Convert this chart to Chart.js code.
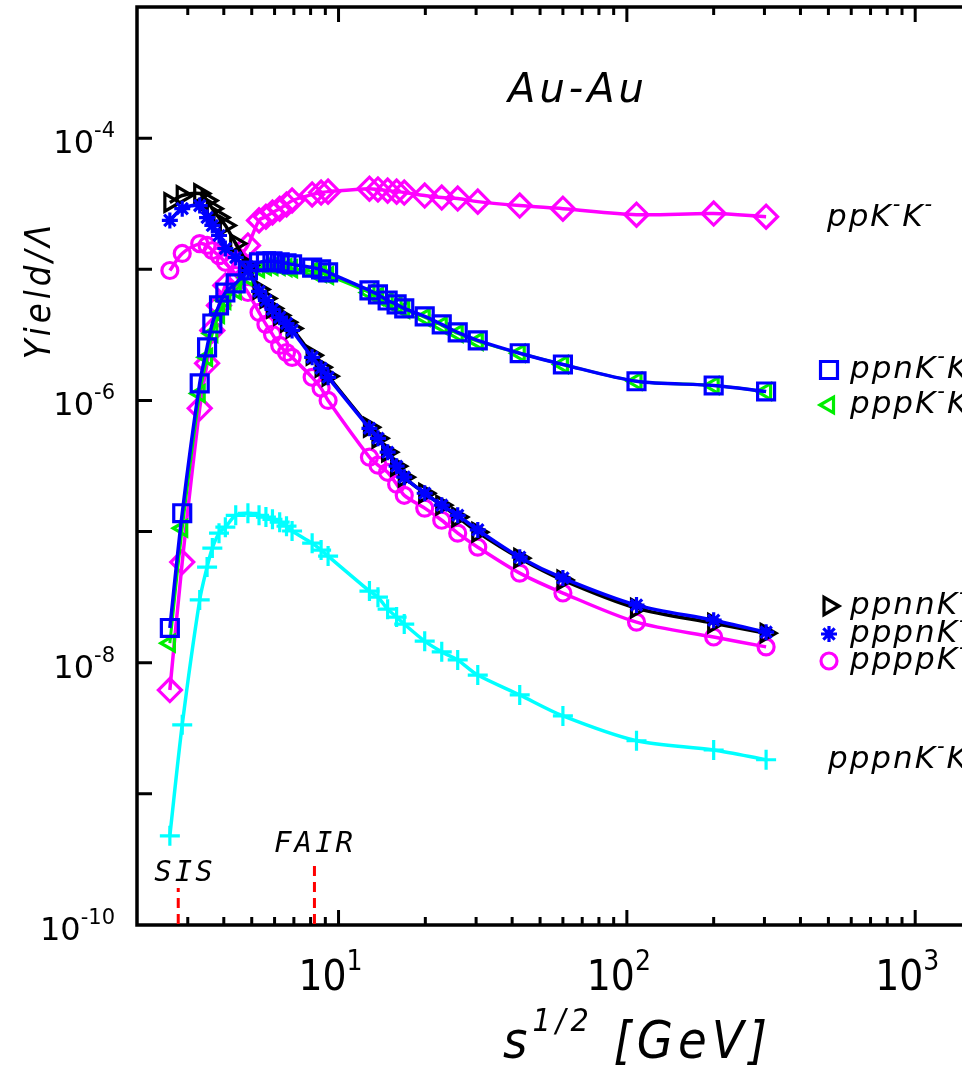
<!DOCTYPE html>
<html>
<head>
<meta charset="utf-8">
<script src="https://cdn.jsdelivr.net/npm/chart.js@4.4.0/dist/chart.umd.min.js"></script>
<style>
  html, body { margin: 0; padding: 0; background: #fff; overflow: hidden; }
  canvas { display: block; }
</style>
</head>
<body>
<canvas id="yields" width="1040" height="1068"></canvas>
<script>
// collision energies sqrt(s) [GeV]
const energies = [2.6, 2.87, 3.3, 3.5, 3.65, 3.85, 4.05, 4.4, 4.85, 5.3, 5.6, 5.9, 6.25, 6.6, 6.9,
  8.1, 8.7, 9.2, 12.8, 13.7, 14.8, 15.9, 16.9, 19.9, 22.8, 25.9, 30.4, 42.5, 60, 108, 200, 304];

// yields relative to Lambda
const ppKK = [6.19e-9, 5.85e-8, 8.71e-7, 1.92e-6, 3.42e-6, 5.30e-6, 7.53e-6, 1.13e-5, 1.52e-5, 2.36e-5,
  2.52e-5, 2.71e-5, 2.90e-5, 3.12e-5, 3.34e-5, 3.72e-5, 3.85e-5, 3.91e-5, 4.12e-5, 4.06e-5, 3.98e-5,
  3.91e-5, 3.85e-5, 3.65e-5, 3.52e-5, 3.46e-5, 3.28e-5, 3.06e-5, 2.90e-5, 2.61e-5, 2.66e-5, 2.52e-5];
const ppnKK = [1.84e-8, 1.38e-7, 1.35e-6, 2.54e-6, 3.86e-6, 5.30e-6, 6.65e-6, 7.80e-6, 9.79e-6, 1.13e-5,
  1.15e-5, 1.15e-5, 1.13e-5, 1.11e-5, 1.09e-5, 1.03e-5, 9.97e-6, 9.46e-6, 6.90e-6, 6.43e-6, 5.78e-6,
  5.40e-6, 5.03e-6, 4.38e-6, 3.80e-6, 3.30e-6, 2.87e-6, 2.29e-6, 1.88e-6, 1.40e-6, 1.30e-6, 1.17e-6];
const pppKK = [1.41e-8, 1.06e-7, 1.13e-6, 2.13e-6, 3.24e-6, 4.53e-6, 5.78e-6, 6.90e-6, 8.67e-6, 1.01e-5,
  1.05e-5, 1.05e-5, 1.05e-5, 1.03e-5, 1.01e-5, 9.62e-6, 9.29e-6, 8.97e-6, 6.65e-6, 6.21e-6, 5.69e-6,
  5.30e-6, 4.94e-6, 4.30e-6, 3.73e-6, 3.24e-6, 2.82e-6, 2.29e-6, 1.88e-6, 1.40e-6, 1.30e-6, 1.17e-6];
const ppnnKK = [3.23e-5, 3.65e-5, 3.78e-5, 3.34e-5, 2.90e-5, 2.48e-5, 2.16e-5, 1.57e-5, 1.07e-5, 7.02e-6,
  6.00e-6, 5.03e-6, 4.45e-6, 3.94e-6, 3.54e-6, 2.21e-6, 1.79e-6, 1.53e-6, 6.24e-7, 5.14e-7, 4.03e-7,
  3.15e-7, 2.60e-7, 1.96e-7, 1.59e-7, 1.29e-7, 9.89e-8, 6.27e-8, 4.27e-8, 2.61e-8, 2.00e-8, 1.68e-8];
const pppnKK = [2.36e-5, 2.90e-5, 3.06e-5, 2.48e-5, 2.16e-5, 1.81e-5, 1.44e-5, 1.23e-5, 9.79e-6, 6.78e-6,
  5.78e-6, 4.94e-6, 4.30e-6, 3.86e-6, 3.42e-6, 2.13e-6, 1.76e-6, 1.50e-6, 6.13e-7, 5.14e-7, 4.03e-7,
  3.15e-7, 2.60e-7, 1.96e-7, 1.59e-7, 1.33e-7, 1.03e-7, 6.38e-8, 4.42e-8, 2.75e-8, 2.11e-8, 1.71e-8];
const ppppKK = [9.79e-6, 1.32e-5, 1.57e-5, 1.52e-5, 1.39e-5, 1.27e-5, 1.13e-5, 8.97e-6, 6.65e-6, 4.69e-6,
  3.80e-6, 3.19e-6, 2.63e-6, 2.32e-6, 2.13e-6, 1.50e-6, 1.24e-6, 1.00e-6, 3.69e-7, 3.21e-7, 2.83e-7,
  2.30e-7, 1.89e-7, 1.51e-7, 1.22e-7, 9.73e-8, 7.60e-8, 4.82e-8, 3.40e-8, 2.04e-8, 1.57e-8, 1.32e-8];
const pppnKKK = [4.79e-10, 3.36e-9, 3.01e-8, 5.36e-8, 7.48e-8, 9.73e-8, 1.08e-7, 1.33e-7, 1.38e-7, 1.33e-7,
  1.29e-7, 1.24e-7, 1.18e-7, 1.10e-7, 1.01e-7, 8.16e-8, 7.22e-8, 6.50e-8, 3.52e-8, 3.16e-8, 2.56e-8,
  2.23e-8, 1.97e-8, 1.46e-8, 1.21e-8, 1.05e-8, 8.05e-9, 5.68e-9, 3.93e-9, 2.54e-9, 2.16e-9, 1.82e-9];

const seriesLabels = ['ppK⁻K⁻', 'ppnK⁻K⁻', 'pppK⁻K⁻', 'ppnnK⁻K⁻', 'pppnK⁻K⁻', 'ppppK⁻K⁻', 'pppnK⁻K⁻K⁻'];

// axis labelling
const xTickLabels = ['10¹', '10²', '10³'];
const xTickValues = [10, 100, 1000];
const yTickLabels = ['10⁻⁴', '10⁻⁶', '10⁻⁸', '10⁻¹⁰'];
const yTickValues = [1e-4, 1e-6, 1e-8, 1e-10];

// accelerator energies marked on the x axis
const facilities = ['SIS', 'FAIR'];
const facilityEnergies = [2.78, 8.25];

const SUP = { '⁻': '-', '⁰': '0', '¹': '1', '²': '2', '³': '3', '⁴': '4', '⁶': '6', '⁸': '8' };

// split "ppK⁻K⁻" into normal / raised runs
function parseRich(str) {
  const parts = [];
  for (const ch of str) {
    const sup = ch in SUP;
    const c = sup ? SUP[ch] : ch;
    const last = parts[parts.length - 1];
    if (last && last.sup === sup) last.t += c;
    else parts.push({ t: c, sup });
  }
  return parts;
}

function drawRich(ctx, parts, x, y, o) {
  const baseFont = `${o.style || ''} ${o.size}px ${o.family}`;
  const supFont = `${o.style || ''} ${o.supSize}px ${o.family}`;
  ctx.letterSpacing = (o.spacing || 0) + 'px';
  let w = 0;
  parts.forEach(p => { ctx.font = p.sup ? supFont : baseFont; w += ctx.measureText(p.t).width; });
  let cx = o.align === 'right' ? x - w : o.align === 'center' ? x - w / 2 : x;
  ctx.textAlign = 'left';
  parts.forEach(p => {
    ctx.font = p.sup ? supFont : baseFont;
    ctx.fillText(p.t, cx, p.sup ? y - o.raise : y);
    cx += ctx.measureText(p.t).width;
  });
  ctx.letterSpacing = '0px';
}

const frame = {
  id: 'frame',
  beforeDatasetsDraw(chart) {
    const { ctx, chartArea: a, scales: { x, y } } = chart;
    ctx.save();
    ctx.strokeStyle = '#000';
    ctx.lineCap = 'butt';
    ctx.lineWidth = 3;
    ctx.beginPath();
    // log ticks on bottom and top, pointing inward
    for (let e = 0; e <= 3; e++) {
      for (let m = 1; m <= 9; m++) {
        const v = m * Math.pow(10, e);
        if (v <= x.min || v >= x.max) continue;
        const px = x.getPixelForValue(v);
        const len = m === 1 ? 15 : 8;
        ctx.moveTo(px, a.bottom); ctx.lineTo(px, a.bottom - len);
        ctx.moveTo(px, a.top); ctx.lineTo(px, a.top + len);
      }
    }
    // one tick per decade on the y axis
    for (let e = -9; e <= -4; e++) {
      const py = y.getPixelForValue(Math.pow(10, e));
      ctx.moveTo(a.left, py); ctx.lineTo(a.left + 15, py);
      ctx.moveTo(a.right, py); ctx.lineTo(a.right - 15, py);
    }
    ctx.stroke();
    ctx.lineWidth = 3.5;
    ctx.strokeRect(a.left, a.top, a.right - a.left, a.bottom - a.top);

    // dashed red markers for SIS and FAIR
    const markLen = { SIS: 37, FAIR: 61 };
    ctx.strokeStyle = '#ff0000';
    ctx.lineWidth = 3;
    ctx.setLineDash([10, 6]);
    facilities.forEach((name, i) => {
      const px = x.getPixelForValue(facilityEnergies[i]);
      ctx.beginPath();
      ctx.moveTo(px, a.bottom - 1);
      ctx.lineTo(px, a.bottom - markLen[name]);
      ctx.stroke();
    });
    ctx.restore();
  },
  afterDraw(chart) {
    const { ctx, chartArea: a, scales: { x, y } } = chart;
    ctx.save();
    ctx.fillStyle = '#000';
    ctx.textBaseline = 'alphabetic';

    // y tick labels
    yTickValues.forEach((v, i) => {
      const py = y.getPixelForValue(v);
      drawRich(ctx, parseRich(yTickLabels[i]), a.left - 22, py + 15,
        { size: 32, supSize: 21, raise: 16, family: '"DejaVu Sans"', align: 'right' });
    });
    // x tick labels
    xTickValues.forEach((v, i) => {
      const px = x.getPixelForValue(v);
      drawRich(ctx, parseRich(xTickLabels[i]), px - 8, 990,
        { size: 42, supSize: 28, raise: 20, family: '"Liberation Sans Narrow", "DejaVu Sans Condensed", sans-serif', align: 'center' });
    });

    // axis titles
    drawRich(ctx, [{ t: 's' }, { t: '1/2', sup: true }, { t: ' [GeV]' }], 503, 1058,
      { size: 52, supSize: 32, raise: 27, family: '"Liberation Sans Narrow", "DejaVu Sans Condensed", sans-serif', style: 'italic', spacing: 5 });
    ctx.save();
    ctx.translate(50, 290);
    ctx.rotate(-Math.PI / 2);
    ctx.font = 'italic 36px "DejaVu Sans Condensed", "DejaVu Sans"';
    ctx.letterSpacing = '4px';
    ctx.textAlign = 'center';
    ctx.fillText('Yield/Λ', 0, 0);
    ctx.restore();

    // collision system
    ctx.font = 'italic 40px "DejaVu Sans"';
    ctx.letterSpacing = '4px';
    ctx.textAlign = 'center';
    ctx.fillText('Au-Au', 578, 102);

    // facility names
    ctx.font = 'italic 29px "DejaVu Sans Mono"';
    ctx.letterSpacing = '3px';
    const namePos = { SIS: [185, 881], FAIR: [315, 852] };
    facilities.forEach(name => ctx.fillText(name, namePos[name][0], namePos[name][1]));
    ctx.letterSpacing = '0px';

    // series labels with their symbols
    const keyRows = [
      { label: 0, sym: null, x: 827, y: 226 },
      { label: 1, sym: 1, x: 850, y: 378 },
      { label: 2, sym: 2, x: 850, y: 413 },
      { label: 3, sym: 3, x: 850, y: 614 },
      { label: 4, sym: 4, x: 850, y: 642 },
      { label: 5, sym: 5, x: 850, y: 669 },
      { label: 6, sym: null, x: 828, y: 768 }
    ];
    keyRows.forEach(r => {
      if (r.sym !== null) {
        const ds = chart.data.datasets.find(d => d.key === r.sym);
        ctx.save();
        ctx.strokeStyle = ds.pointBorderColor;
        ctx.fillStyle = 'rgba(0,0,0,0)';
        ctx.lineWidth = ds.pointBorderWidth;
        Chart.helpers.drawPoint(ctx, {
          pointStyle: ds.pointStyle, radius: ds.pointRadius, rotation: ds.pointRotation || 0, borderWidth: ds.pointBorderWidth
        }, 829, r.y - 8);
        ctx.restore();
      }
      drawRich(ctx, parseRich(seriesLabels[r.label]), r.x, r.y,
        { size: 31, supSize: 21, raise: 15, family: '"DejaVu Sans"', style: 'italic', spacing: 2 });
    });
    ctx.restore();
  }
};

function line(key, values, color, style, radius, extra) {
  return Object.assign({
    key,
    label: seriesLabels[key],
    data: energies.map((e, i) => ({ x: e, y: values[i] })),
    borderColor: color,
    borderWidth: 3.5,
    pointStyle: style,
    pointRadius: radius,
    pointBorderColor: color,
    pointBackgroundColor: 'rgba(0,0,0,0)',
    pointBorderWidth: 3.2,
    tension: 0.3,
    fill: false
  }, extra || {});
}

new Chart(document.getElementById('yields'), {
  type: 'line',
  data: {
    datasets: [
      line(1, ppnKK, '#0000ff', 'rect', 12),
      line(4, pppnKK, '#0000ff', 'star', 8),
      line(3, ppnnKK, '#000000', 'triangle', 10, { pointRotation: 90 }),
      line(2, pppKK, '#00ee00', 'triangle', 9, { pointRotation: 270, borderWidth: 3 }),
      line(0, ppKK, '#ff00ff', 'rectRot', 11.5),
      line(5, ppppKK, '#ff00ff', 'circle', 8),
      line(6, pppnKKK, '#00ffff', 'cross', 10)
    ]
  },
  options: {
    responsive: false,
    animation: false,
    devicePixelRatio: 1,
    layout: { autoPadding: false, padding: { left: 137, top: 7, right: 38, bottom: 143 } },
    plugins: { legend: { display: false }, tooltip: { enabled: false } },
    scales: {
      x: { type: 'logarithmic', min: 2, max: 2000, display: false },
      y: { type: 'logarithmic', min: 1e-10, max: 1e-3, display: false }
    }
  },
  plugins: [frame]
});
</script>
</body>
</html>
